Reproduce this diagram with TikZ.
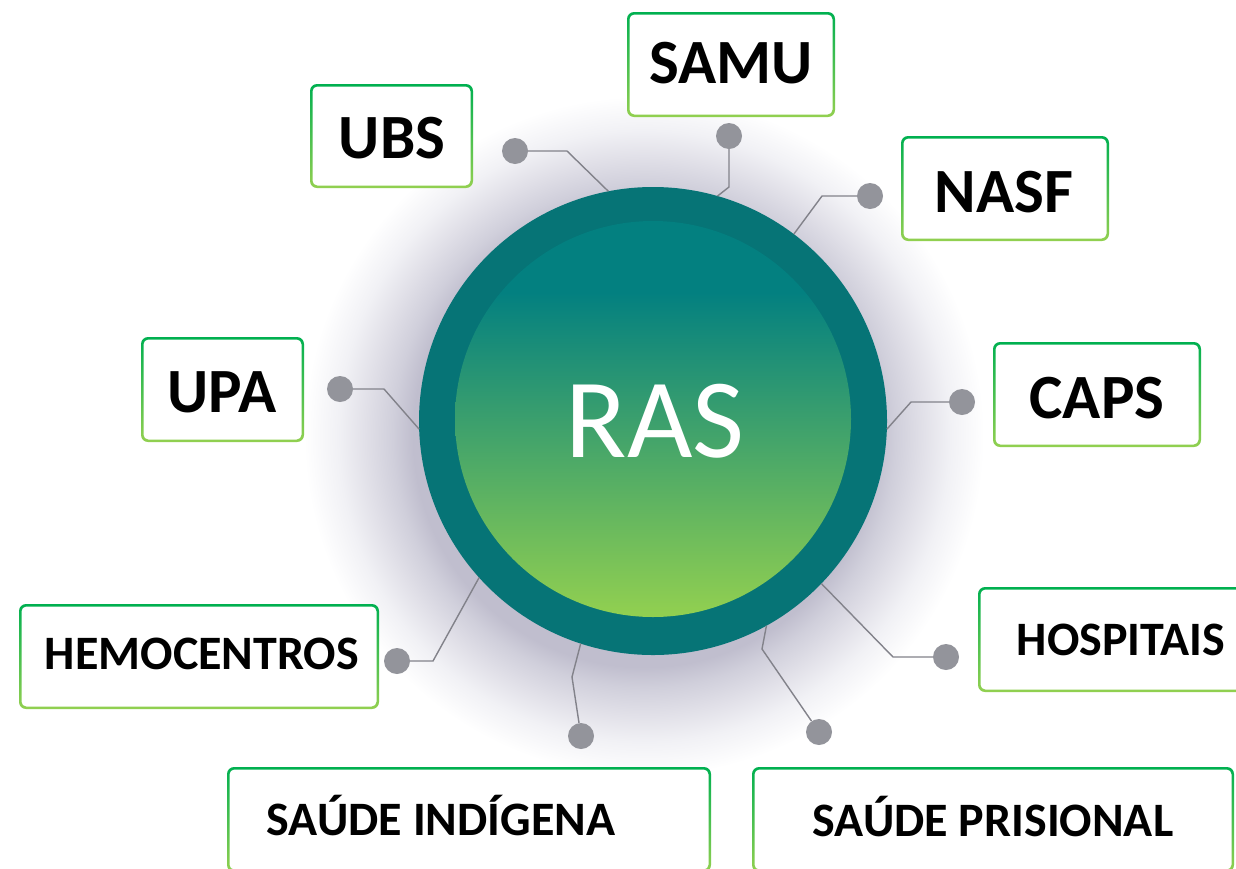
\documentclass[tikz,border=0pt]{standalone}
\usepackage{fontspec}
\setmainfont{Carlito}
\usetikzlibrary{calc}
\definecolor{gtop}{RGB}{0,176,80}
\definecolor{gbot}{RGB}{146,208,80}
\definecolor{ringc}{RGB}{6,116,118}
\definecolor{tealc}{RGB}{3,128,128}
\definecolor{greenc}{RGB}{146,208,80}
\definecolor{dotc}{RGB}{147,148,155}
\definecolor{linec}{RGB}{130,130,138}
\definecolor{haloc}{RGB}{192,190,206}
\definecolor{haloa}{RGB}{208,207,219}
\definecolor{halob}{RGB}{225,224,232}
\definecolor{haloz}{RGB}{241,241,245}
\pgfdeclareverticalshading{innerg}{100bp}{color(0bp)=(greenc); color(25bp)=(greenc); color(66bp)=(tealc); color(100bp)=(tealc)}
\pgfdeclareradialshading{haloshade}{\pgfpoint{0bp}{0bp}}{color(0bp)=(haloc); color(17bp)=(haloc); color(18.5bp)=(haloa); color(20.5bp)=(halob); color(22.5bp)=(haloz); color(25bp)=(white); color(50bp)=(white)}
\tikzset{
  frame/.style={rounded corners=7pt, top color=gtop, bottom color=gbot, inner sep=0pt, outer sep=0pt,
    path picture={\fill[white, rounded corners=5pt] ($(path picture bounding box.south west)+(2.5pt,2.5pt)$) rectangle ($(path picture bounding box.north east)+(-2.5pt,-2.5pt)$);}},
  bigtxt/.style={font=\bfseries\fontsize{63}{63}\selectfont, inner sep=0pt, anchor=base},
  smalltxt/.style={font=\bfseries\fontsize{48}{48}\selectfont, inner sep=0pt, anchor=base},
  dot/.style={circle, fill=dotc, minimum size=26pt, inner sep=0pt},
  conn/.style={draw=linec, line width=1.4pt}
}
\begin{document}
\begin{tikzpicture}[x=1pt,y=-1pt]
\useasboundingbox (0,0) rectangle (1236,868);
\clip (0,0) rectangle (1236,868);
\fill[white] (0,0) rectangle (1236,868);
% halo
\shade[shading=haloshade] (644,436) circle (340);
% circle
\node[circle, minimum size=468pt, inner sep=0pt, outer sep=0pt, fill=ringc] (ras) at (653,421) {};
\node[circle, minimum size=396pt, inner sep=0pt, shade, shading=innerg] (rasin) at (653,419) {};
\node[font=\fontsize{113}{113}\selectfont, text=white, inner sep=0pt, anchor=base] (rastxt) at (655,457) {RAS};
% corners
\coordinate (cUBS) at (567,151);
\coordinate (cSAMU) at (729,187);
\coordinate (cNASF) at (822,196);
\coordinate (cUPA) at (384,389);
\coordinate (cCAPS) at (911,402);
\coordinate (cHEMO) at (433,661);
\coordinate (cIND) at (572,677);
\coordinate (cPRI) at (762,649);
\coordinate (cHOS) at (893,657);
% dots
\node[dot] (dUBS) at (515,151) {};
\node[dot] (dSAMU) at (729,136) {};
\node[dot] (dNASF) at (870,196) {};
\node[dot] (dUPA) at (340,389) {};
\node[dot] (dCAPS) at (962,402) {};
\node[dot] (dHEMO) at (397,661) {};
\node[dot] (dIND) at (581,736) {};
\node[dot] (dPRI) at (819,732) {};
\node[dot] (dHOS) at (946,657) {};
% connectors
\draw[conn] (dUBS) -- (cUBS) -- (ras.101.8);
\draw[conn] (dSAMU) -- (cSAMU) -- (ras.74.6);
\draw[conn] (dNASF) -- (cNASF) -- (ras.53.7);
\draw[conn] (dUPA) -- (cUPA) -- (ras.182.2);
\draw[conn] (dCAPS) -- (cCAPS) -- (ras.-2.9);
\draw[conn] (dHEMO) -- (cHEMO) -- (ras.222.6);
\draw[conn] (dIND) -- (cIND) -- (ras.252.3);
\draw[conn] (dPRI) -- (cPRI) -- (ras.-61.6);
\draw[conn] (dHOS) -- (cHOS) -- (ras.-44.1);
% frames
\node[frame, minimum width=208pt, minimum height=105pt] (fSAMU) at (731,64.5) {};
\node[frame, minimum width=163pt, minimum height=104pt] (fUBS) at (391.5,136) {};
\node[frame, minimum width=208pt, minimum height=105pt] (fNASF) at (1005,188.5) {};
\node[frame, minimum width=163pt, minimum height=105pt] (fUPA) at (222.5,389.5) {};
\node[frame, minimum width=208pt, minimum height=105pt] (fCAPS) at (1097,394.5) {};
\node[frame, minimum width=360pt, minimum height=105pt] (fHEMO) at (199,656.5) {};
\node[frame, minimum width=282pt, minimum height=105pt] (fHOS) at (1119,639.5) {};
\node[frame, minimum width=484pt, minimum height=105pt] (fIND) at (469,819.5) {};
\node[frame, minimum width=482pt, minimum height=105pt] (fPRI) at (993,819.5) {};
% labels
\node[bigtxt] (tSAMU) at (731,83) {SAMU};
\node[bigtxt] (tUBS) at (392,158) {UBS};
\node[bigtxt] (tNASF) at (1004,212) {NASF};
\node[bigtxt] (tUPA) at (222,412) {UPA};
\node[bigtxt] (tCAPS) at (1097,418) {CAPS};
\node[smalltxt] (tHEMO) at (202,669) {HEMOCENTROS};
\node[smalltxt] (tHOS) at (1121,655) {HOSPITAIS};
\node[smalltxt] (tIND) at (441,835) {SAÚDE INDÍGENA};
\node[smalltxt] (tPRI) at (993,836) {SAÚDE PRISIONAL};
\end{tikzpicture}
\end{document}
